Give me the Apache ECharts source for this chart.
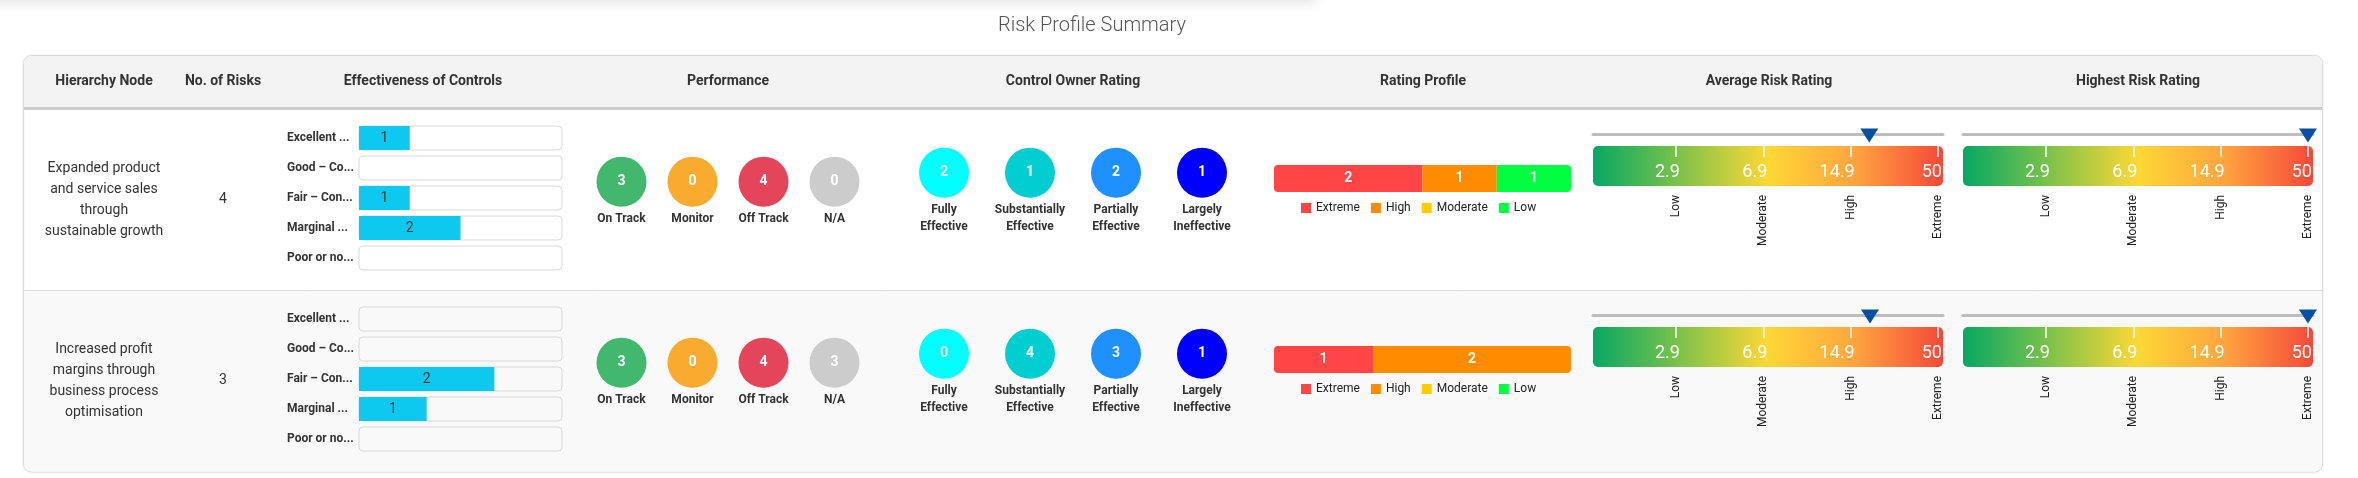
<!DOCTYPE html>
<html><head><meta charset="utf-8">
<script src="https://cdn.jsdelivr.net/npm/echarts@6/dist/echarts.min.js"></script>
<style>html,body{margin:0;padding:0;background:#fff}#c{width:2358px;height:478px}</style>
</head><body><div id="c"></div>
<script>
// ---------------- DATA ----------------
const headers = ['Hierarchy Node', 'No. of Risks', 'Effectiveness of Controls', 'Performance', 'Control Owner Rating', 'Rating Profile', 'Average Risk Rating', 'Highest Risk Rating'];
const hierarchyNodes = ['Expanded product\nand service sales\nthrough\nsustainable growth', 'Increased profit\nmargins through\nbusiness process\noptimisation'];
const riskCounts = [4, 3];
const effCategories = ['Excellent ...', 'Good \u2013 Co...', 'Fair \u2013 Con...', 'Marginal ...', 'Poor or no...'];
const effRow1 = [1, 0, 1, 2, 0];
const effRow2 = [0, 0, 2, 1, 0];
const perfCategories = ['On Track', 'Monitor', 'Off Track', 'N/A'];
const perfRow1 = [3, 0, 4, 0];
const perfRow2 = [3, 0, 4, 3];
const ownerCategories = ['Fully\nEffective', 'Substantially\nEffective', 'Partially\nEffective', 'Largely\nIneffective'];
const ownerRow1 = [2, 1, 2, 1];
const ownerRow2 = [0, 4, 3, 1];
const ratingLevels = ['Extreme', 'High', 'Moderate', 'Low'];
const ratingRow1 = [2, 1, 0, 1];
const ratingRow2 = [1, 2, 0, 0];
const thresholds = [2.9, 6.9, 14.9, 50];
const thresholdNames = ['Low', 'Moderate', 'High', 'Extreme'];
const averageRating = [22.4, 22.7];
const highestRating = [50, 50];

// ---------------- STYLE ----------------
const perfColors = ['#41b86e', '#f9ab30', '#e4455b', '#cccccc'];
const ownerColors = ['#00ffff', '#00ced1', '#1e90ff', '#0000ff'];
const ratingColors = ['#ff4545', '#ff8c00', '#ffcc00', '#00ff40'];
const effRows = [effRow1, effRow2];
const perfRows = [perfRow1, perfRow2];
const ownerRows = [ownerRow1, ownerRow2];
const ratingRows = [ratingRow1, ratingRow2];
const ROW_OFF = [0, 181];
const FONT = 'Roboto';

// piecewise gauge scale: each threshold band gets equal width
const GOFF = 0.05, GMAX = 4.008;
function gaugePos(v) {
  const b = [0].concat(thresholds);
  for (let i = 1; i < b.length; i++) {
    if (v <= b[i]) return (i - 1) + (v - b[i - 1]) / (b[i] - b[i - 1]) - GOFF;
  }
  return thresholds.length - GOFF;
}
const tickPos = thresholds.map(gaugePos);
const idxOfTick = v => tickPos.findIndex(p => Math.abs(p - v) < 1e-6);

const grids = [], xAxes = [], yAxes = [], series = [], legends = [], graphics = [];
function addGrid(g) { grids.push(Object.assign({ outerBoundsMode: 'none', containLabel: false }, g)); return grids.length - 1; }
function addX(a) { xAxes.push(a); return xAxes.length - 1; }
function addY(a) { yAxes.push(a); return yAxes.length - 1; }

const gaugeGradient = { type: 'linear', x: 0, y: 0, x2: 1, y2: 0, colorStops: [
  { offset: 0, color: '#06a863' }, { offset: 0.25, color: '#7fc24a' }, { offset: 0.5, color: '#fdd835' },
  { offset: 0.75, color: '#ffa33f' }, { offset: 1, color: '#f4483a' }] };

function addGauge(left, off, value) {
  const gB = addGrid({ left: left, top: 146 + off, width: 350, height: 40 });
  const xT = addX({ gridIndex: gB, type: 'value', position: 'top', min: 0, max: GMAX, z: 10,
    axisLine: { show: false }, splitLine: { show: false },
    axisTick: { show: true, inside: true, length: 11, customValues: tickPos, lineStyle: { color: '#ffffff', width: 1.5 } },
    axisLabel: { show: true, inside: true, customValues: tickPos, margin: 17, align: 'right', padding: [0, -4, 0, 0],
      color: '#ffffff', fontSize: 18, fontFamily: FONT, formatter: v => String(thresholds[idxOfTick(v)]) } });
  addX({ gridIndex: gB, type: 'value', position: 'bottom', min: 0, max: GMAX, z: 10,
    axisLine: { show: false }, splitLine: { show: false }, axisTick: { show: false },
    axisLabel: { show: true, customValues: tickPos, rotate: 90, margin: 9, color: '#222', fontSize: 12, fontFamily: FONT,
      formatter: v => thresholdNames[idxOfTick(v)] } });
  const yB = addY({ gridIndex: gB, type: 'category', data: ['scale'], show: false });
  series.push({ type: 'bar', xAxisIndex: xT, yAxisIndex: yB, barWidth: 40, data: [GMAX], silent: true, z: 1,
    itemStyle: { color: gaugeGradient, borderRadius: 5 } });

  const gM = addGrid({ left: left, top: 119 + off, width: 350, height: 30 });
  const xM = addX({ gridIndex: gM, type: 'value', min: 0, max: GMAX,
    axisLine: { show: true, onZero: true, lineStyle: { color: '#bdbdbd', width: 3 } },
    axisTick: { show: false }, axisLabel: { show: false }, splitLine: { show: false } });
  const yM = addY({ gridIndex: gM, type: 'value', min: -1, max: 1, show: false });
  series.push({ type: 'scatter', xAxisIndex: xM, yAxisIndex: yM, data: [[gaugePos(value), -0.1]], clip: false,
    symbol: 'triangle', symbolRotate: 180, symbolSize: [18, 14], itemStyle: { color: '#0550a0', opacity: 1 }, silent: true, z: 5 });
}

for (let r = 0; r < 2; r++) {
  const off = ROW_OFF[r];
  // Effectiveness of controls
  let g = addGrid({ left: 359, top: 123 + off, width: 203, height: 150 });
  let xi = addX({ gridIndex: g, type: 'value', min: 0, max: riskCounts[r], show: false });
  let yi = addY({ gridIndex: g, type: 'category', data: effCategories, inverse: true,
    axisLine: { show: false }, axisTick: { show: false },
    axisLabel: { align: 'left', margin: 72, fontSize: 12, fontWeight: 'bold', color: '#333', fontFamily: FONT } });
  series.push({ type: 'bar', xAxisIndex: xi, yAxisIndex: yi, data: effRows[r], barWidth: 24, silent: true,
    showBackground: true,
    backgroundStyle: { color: 'rgba(255,255,255,0)', borderColor: '#d9d9d9', borderWidth: 1, borderRadius: 4 },
    itemStyle: { color: '#0dc8ef' },
    label: { show: true, position: 'inside', color: '#333', fontSize: 14, fontFamily: FONT, formatter: p => p.value ? String(p.value) : '' } });

  // Performance
  g = addGrid({ left: 586, top: 156.7 + off, width: 284, height: 50 });
  xi = addX({ gridIndex: g, type: 'category', data: perfCategories, axisLine: { show: false }, axisTick: { show: false },
    axisLabel: { interval: 0, margin: 4, fontSize: 12, fontWeight: 'bold', color: '#333', lineHeight: 17, fontFamily: FONT } });
  yi = addY({ gridIndex: g, type: 'value', min: 0, max: 1, show: false });
  series.push({ type: 'scatter', xAxisIndex: xi, yAxisIndex: yi, symbolSize: 50, silent: true, clip: false,
    data: perfRows[r].map((v, i) => ({ value: [i, 0.5], itemStyle: { color: perfColors[i], opacity: 1 } })),
    itemStyle: { opacity: 1 },
    label: { show: true, position: 'inside', color: '#fff', fontSize: 14, fontWeight: 'bold', fontFamily: FONT,
      formatter: (rr => p => String(perfRows[rr][p.dataIndex]))(r) } });

  // Control owner rating
  g = addGrid({ left: 901, top: 147.7 + off, width: 344, height: 50 });
  xi = addX({ gridIndex: g, type: 'category', data: ownerCategories, axisLine: { show: false }, axisTick: { show: false },
    axisLabel: { interval: 0, margin: 4, fontSize: 12, fontWeight: 'bold', color: '#333', lineHeight: 17, fontFamily: FONT } });
  yi = addY({ gridIndex: g, type: 'value', min: 0, max: 1, show: false });
  series.push({ type: 'scatter', xAxisIndex: xi, yAxisIndex: yi, symbolSize: 50, silent: true, clip: false,
    data: ownerRows[r].map((v, i) => ({ value: [i, 0.5], itemStyle: { color: ownerColors[i], opacity: 1 } })),
    itemStyle: { opacity: 1 },
    label: { show: true, position: 'inside', color: '#fff', fontSize: 14, fontWeight: 'bold', fontFamily: FONT,
      formatter: (rr => p => String(ownerRows[rr][p.dataIndex]))(r) } });

  // Rating profile
  const vals = ratingRows[r];
  const total = vals.reduce((a, b) => a + b, 0);
  const nz = vals.map((v, i) => v > 0 ? i : -1).filter(i => i >= 0);
  const first = nz[0], last = nz[nz.length - 1];
  g = addGrid({ left: 1274, top: 165 + off, width: 297, height: 27 });
  xi = addX({ gridIndex: g, type: 'value', min: 0, max: total, show: false });
  yi = addY({ gridIndex: g, type: 'category', data: ['profile'], show: false });
  ratingLevels.forEach((lvl, k) => {
    const rad = [k === first ? 4 : 0, k === last ? 4 : 0, k === last ? 4 : 0, k === first ? 4 : 0];
    series.push({ type: 'bar', name: lvl, stack: 'rp' + r, xAxisIndex: xi, yAxisIndex: yi, barWidth: 27, silent: true,
      data: [{ value: vals[k], itemStyle: { borderRadius: rad } }],
      itemStyle: { color: ratingColors[k] },
      label: { show: true, position: 'inside', color: '#fff', fontSize: 14, fontWeight: 'bold', fontFamily: FONT,
        formatter: p => p.value ? String(p.value) : '' } });
  });
  legends.push({ data: ratingLevels, left: 1301, top: 202 + off, padding: 0, itemWidth: 10, itemHeight: 10, itemGap: 11,
    icon: 'rect', selectedMode: false, textStyle: { fontSize: 12, color: '#222', fontFamily: FONT } });

  // gauges
  addGauge(1593, off, averageRating[r]);
  addGauge(1963, off, highestRating[r]);
}

// ---------------- DECORATION / TEXT ----------------
graphics.push({ type: 'rect', z: 0, shape: { x: -20, y: -40, width: 1336, height: 40 },
  style: { fill: '#fff', shadowBlur: 14, shadowOffsetY: 2, shadowColor: 'rgba(0,0,0,0.13)' } });
graphics.push({ type: 'rect', z: 0, shape: { x: 23.5, y: 55.5, width: 2299, height: 416.5, r: 8 },
  style: { fill: '#fff', stroke: '#dadada', lineWidth: 1, shadowBlur: 3, shadowColor: 'rgba(0,0,0,0.06)' } });
graphics.push({ type: 'rect', z: 0, shape: { x: 24, y: 56, width: 2298, height: 51, r: [8, 8, 0, 0] }, style: { fill: '#f3f3f3' } });
graphics.push({ type: 'rect', z: 0, shape: { x: 24, y: 107, width: 2298, height: 3 }, style: { fill: '#cccccc' } });
graphics.push({ type: 'rect', z: 0, shape: { x: 24, y: 290.5, width: 2298, height: 181, r: [0, 0, 8, 8] }, style: { fill: '#f9f9f9' } });
graphics.push({ type: 'line', z: 0, shape: { x1: 24, y1: 290.5, x2: 2322, y2: 290.5 }, style: { stroke: '#dddddd', lineWidth: 1 } });
graphics.push({ type: 'text', z: 1, style: { text: 'Risk Profile Summary', x: 1092, y: 26, align: 'center', verticalAlign: 'middle',
  fontSize: 20, fontWeight: 300, fontFamily: FONT, fill: '#555' } });
const headerX = [104, 223, 423, 728, 1073, 1423, 1769, 2138];
headers.forEach((h, i) => graphics.push({ type: 'text', z: 1, style: { text: h, x: headerX[i], y: 81, align: 'center',
  verticalAlign: 'middle', fontSize: 14, fontWeight: 'bold', fontFamily: FONT, fill: '#333' } }));
for (let r = 0; r < 2; r++) {
  graphics.push({ type: 'text', z: 1, style: { text: hierarchyNodes[r], x: 104, y: 199.5 + ROW_OFF[r], align: 'center',
    verticalAlign: 'middle', fontSize: 14, lineHeight: 21, fontFamily: FONT, fill: '#333' } });
  graphics.push({ type: 'text', z: 1, style: { text: String(riskCounts[r]), x: 223, y: 199.5 + ROW_OFF[r], align: 'center',
    verticalAlign: 'middle', fontSize: 14, fontFamily: FONT, fill: '#333' } });
}

const chart = echarts.init(document.getElementById('c'), null, { renderer: 'canvas' });
chart.setOption({
  animation: false,
  backgroundColor: '#fff',
  textStyle: { fontFamily: FONT },
  tooltip: { show: false },
  grid: grids, xAxis: xAxes, yAxis: yAxes, series: series, legend: legends,
  graphic: { elements: graphics }
});
</script></body></html>
